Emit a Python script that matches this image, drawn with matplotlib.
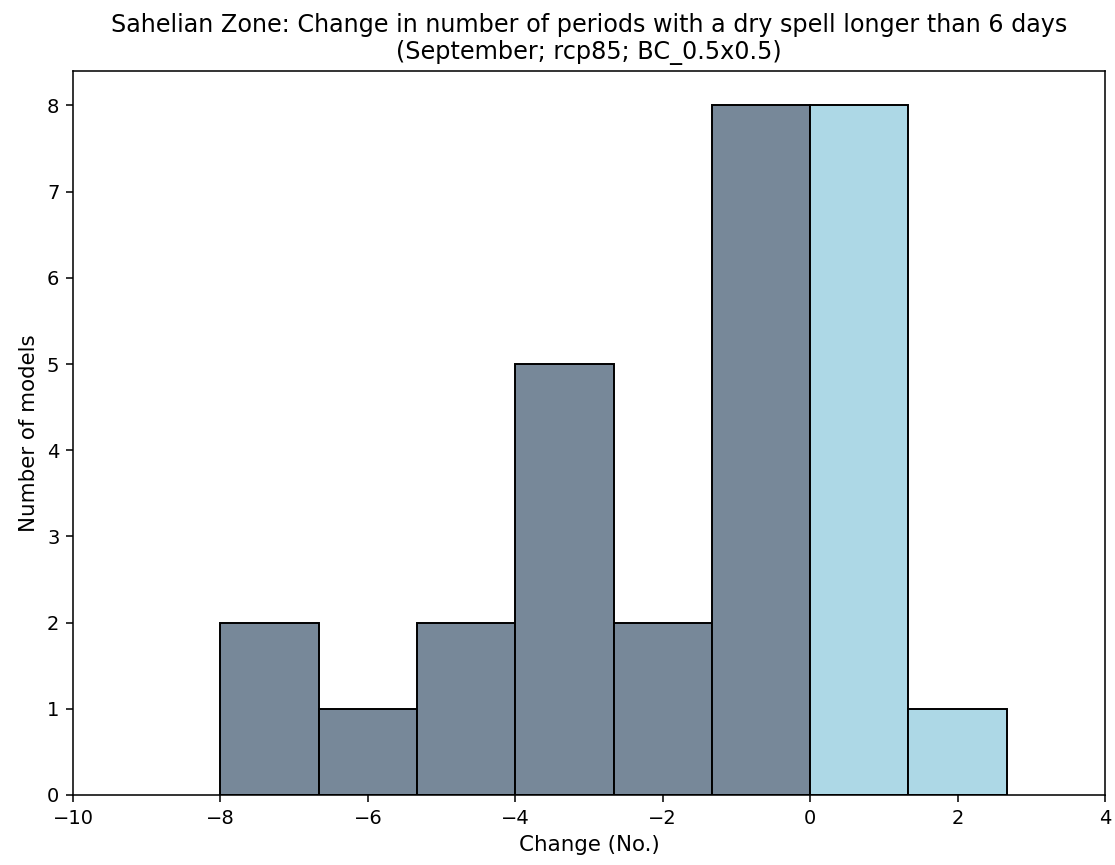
import matplotlib
matplotlib.use("Agg")
import matplotlib.pyplot as plt
import numpy as np

bin_edges = [-8.0, -6.667, -5.333, -4.0, -2.667, -1.333, 0.0, 1.333, 2.667]
counts = [2, 1, 2, 5, 2, 8, 8, 1]
neg_color = "#778899"
pos_color = "#ADD8E6"

s = 1.4
fig = plt.figure(figsize=(11.15, 8.65), dpi=100)
ax = fig.add_axes([73 / 1115, 1 - 795 / 865, (1105 - 73) / 1115, (795 - 71) / 865])

lefts = np.array(bin_edges[:-1])
widths = np.diff(bin_edges)
colors = [neg_color if l < 0 else pos_color for l in lefts]
ax.bar(lefts, counts, width=widths, align="edge", color=colors, edgecolor="black", linewidth=1.0 * s)

ax.set_xlim(-10, 4)
ax.set_xticks([-10, -8, -6, -4, -2, 0, 2, 4])
for sp in ax.spines.values():
    sp.set_linewidth(0.8 * s)
ax.tick_params(labelsize=10 * s, length=3.5 * s, width=0.8 * s, pad=3.5 * s)
ax.set_xlabel("Change (No.)", fontsize=11 * s, labelpad=4 * s)
ax.set_ylabel("Number of models", fontsize=11 * s, labelpad=4 * s)
ax.set_title("Sahelian Zone: Change in number of periods with a dry spell longer than 6 days\n(September; rcp85; BC_0.5x0.5)", fontsize=17.2, pad=6 * s)

fig.savefig("out.png", dpi=100)
